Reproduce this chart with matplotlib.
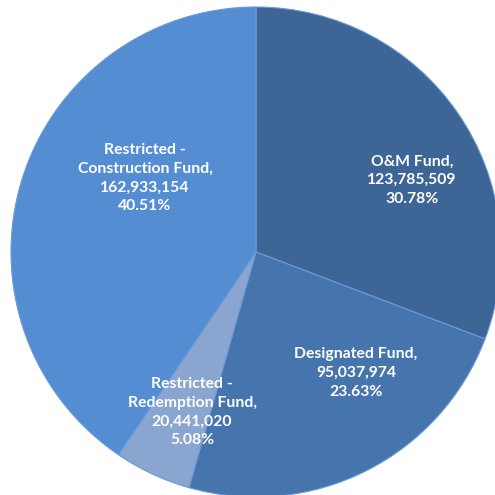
import matplotlib
matplotlib.use("Agg")
import matplotlib.pyplot as plt

categories = ["O&M Fund", "Designated Fund", "Restricted -\nRedemption Fund", "Restricted -\nConstruction Fund"]
values = [123785509, 95037974, 20441020, 162933154]
percents = ["30.78%", "23.63%", "5.08%", "40.51%"]
colors = ["#3d6595", "#4675ae", "#8aa5cf", "#558dd3"]
# label offsets from pie centre (pixels, y up)
label_dx = [156, 100, -64, -111]
label_dy = [72, -121, -160, 74]

fig = plt.figure(figsize=(4.95, 4.95), dpi=100)
ax = fig.add_axes([0, 0, 1, 1])

cx, cy, r = 256, 243, 245
ax.pie(values, colors=colors, startangle=90, counterclock=False,
       center=(cx, cy), radius=r, frame=True,
       wedgeprops=dict(edgecolor="#6a9ad8", linewidth=0.8))
ax.set_xlim(0, 495)
ax.set_ylim(0, 495)
ax.set_aspect("equal")
ax.axis("off")

for cat, v, p, dx, dy in zip(categories, values, percents, label_dx, label_dy):
    ax.text(cx + dx, cy + dy, f"{cat},\n{v:,}\n{p}", ha="center", va="center",
            color="white", fontsize=11.3, fontweight="bold", family="Lato",
            linespacing=1.42)

fig.savefig("out.png", dpi=100)
